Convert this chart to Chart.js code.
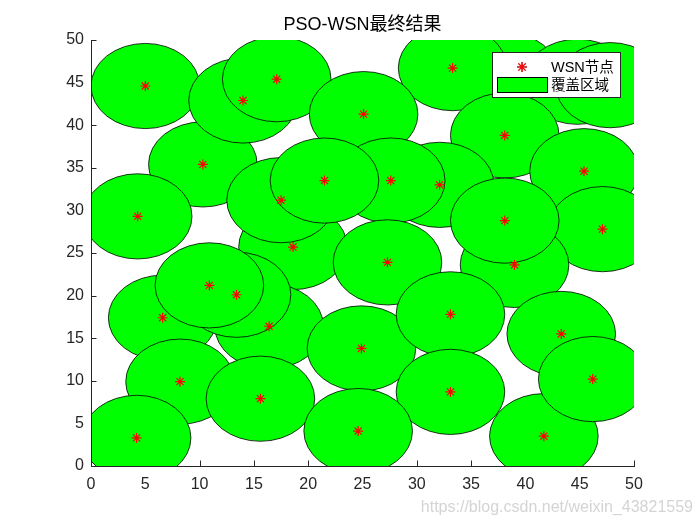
<!DOCTYPE html>
<html>
<head>
<meta charset="utf-8">
<script src="https://cdn.jsdelivr.net/npm/chart.js@4.4.0/dist/chart.umd.min.js"></script>
<style>
  html, body { margin: 0; padding: 0; background: #fff; }
  #wrap { width: 700px; height: 525px; }
</style>
</head>
<body>
<div id="wrap"><canvas id="wsnChart" width="700" height="525"></canvas></div>
<script>
// node positions (drawing order = order here, later on top)
const nodeX = [38.1, 44.8, 47.8, 5.0, 10.3, 14.0, 17.1, 33.3, 25.1, 38.1, 45.4, 47.1, 4.3,
  18.6, 17.5, 32.1, 27.6, 21.5, 39.0, 38.1, 27.3, 6.6, 16.4, 13.4, 10.9, 24.9, 33.1,
  43.3, 8.2, 15.6, 4.2, 33.1, 24.6, 41.7, 46.2];
const nodeY = [45.9, 45.1, 44.7, 44.6, 35.4, 42.9, 45.4, 46.7, 41.3, 38.8, 34.6, 27.8, 29.3,
  25.7, 31.2, 33.0, 33.5, 33.5, 23.6, 28.8, 23.9, 17.4, 16.4, 20.1, 21.2, 13.8, 17.8,
  15.5, 9.9, 7.9, 3.3, 8.7, 4.1, 3.5, 10.2];
const senseR = 5;   // coverage radius
const axisTicks = [0, 5, 10, 15, 20, 25, 30, 35, 40, 45, 50];

const nodePts = nodeX.map((x, i) => ({ x: x, y: nodeY[i] }));

const FONT = '"Liberation Sans", Arial, Helvetica, "Noto Sans CJK SC", sans-serif';
const AXIS_COLOR = '#262626';

// coverage circles + inward tick marks, drawn under the node markers
const coveragePlugin = {
  id: 'coverage',
  beforeDatasetsDraw(chart) {
    const ctx = chart.ctx;
    const xs = chart.scales.x, ys = chart.scales.y;
    const area = chart.chartArea;

    ctx.save();
    ctx.strokeStyle = AXIS_COLOR;
    ctx.lineWidth = 1;
    ctx.beginPath();
    axisTicks.forEach(v => {
      const px = Math.round(xs.getPixelForValue(v)) + 0.5;
      ctx.moveTo(px, area.bottom);
      ctx.lineTo(px, area.bottom - 5.5);
      const py = Math.round(ys.getPixelForValue(v)) + 0.5;
      ctx.moveTo(area.left, py);
      ctx.lineTo(area.left + 5.5, py);
    });
    ctx.stroke();
    ctx.restore();

    const meta = chart.getDatasetMeta(1);
    ctx.save();
    ctx.beginPath();
    ctx.rect(area.left + 1, area.top, area.right - area.left - 1, area.bottom - area.top);
    ctx.clip();
    meta.data.forEach((pt, i) => {
      const d = chart.data.datasets[1].data[i];
      const cx = xs.getPixelForValue(d.x);
      const cy = ys.getPixelForValue(d.y);
      const rx = xs.getPixelForValue(d.x + senseR) - cx;
      const ry = cy - ys.getPixelForValue(d.y + senseR);
      ctx.beginPath();
      ctx.ellipse(cx, cy, rx, ry, 0, 0, Math.PI * 2);
      ctx.fillStyle = '#00ff00';
      ctx.fill();
      ctx.lineWidth = 0.8;
      ctx.strokeStyle = '#000';
      ctx.stroke();
    });
    ctx.restore();
  },
  afterDraw(chart) {
    const ctx = chart.ctx;
    const area = chart.chartArea;
    // legend box, inside the axes at top right
    const bx = area.right - 141.5, by = area.top + 12.5, bw = 128, bh = 45;
    ctx.save();
    ctx.fillStyle = '#fff';
    ctx.fillRect(bx, by, bw, bh);
    ctx.strokeStyle = AXIS_COLOR;
    ctx.lineWidth = 1;
    ctx.strokeRect(bx, by, bw, bh);

    Chart.helpers.drawPoint(ctx, { pointStyle: 'star', radius: 5, borderWidth: 1.2 }, bx + 29.5, by + 14.5);
    ctx.strokeStyle = 'red';
    ctx.lineWidth = 1.2;
    ctx.stroke();

    ctx.fillStyle = '#00ff00';
    ctx.fillRect(bx + 5, by + 25, 50, 15);
    ctx.strokeStyle = '#000';
    ctx.lineWidth = 1;
    ctx.strokeRect(bx + 5, by + 25, 50, 15);

    ctx.fillStyle = '#000';
    ctx.font = '14.5px ' + FONT;
    ctx.textBaseline = 'middle';
    ctx.textAlign = 'left';
    ctx.fillText(chart.data.datasets[0].label, bx + 58.5, by + 15.5);
    ctx.fillText(chart.data.datasets[1].label, bx + 58.5, by + 33);

    // csdn watermark
    ctx.fillStyle = '#d4d4d4';
    ctx.font = '16px ' + FONT;
    ctx.textAlign = 'right';
    ctx.fillText('https://blog.csdn.net/weixin_43821559', 693, 508);
    ctx.restore();
  }
};

const axisOpts = {
  type: 'linear',
  min: 0,
  max: 50,
  grid: { display: false, drawTicks: false },
  border: { display: true, color: AXIS_COLOR, width: 1 },
  afterBuildTicks: s => { s.ticks = axisTicks.map(v => ({ value: v })); },
  ticks: { color: AXIS_COLOR, font: { family: FONT, size: 16 }, autoSkip: false, maxRotation: 0 }
};

new Chart(document.getElementById('wsnChart'), {
  type: 'scatter',
  data: {
    datasets: [
      {
        label: 'WSN节点',
        data: nodePts,
        pointStyle: 'star',
        pointRadius: 5,
        borderColor: 'red',
        backgroundColor: 'red',
        borderWidth: 1.2
      },
      {
        label: '覆盖区域',
        data: nodePts,
        pointRadius: 0,
        backgroundColor: '#00ff00',
        borderColor: '#000'
      }
    ]
  },
  options: {
    responsive: false,
    animation: false,
    events: [],
    layout: { padding: { top: 0, right: 66, bottom: 0, left: 0 } },
    plugins: {
      legend: { display: false },
      tooltip: { enabled: false },
      title: {
        display: true,
        fullSize: false,
        text: 'PSO-WSN最终结果',
        color: '#000',
        font: { family: FONT, size: 18, weight: 'normal' },
        padding: { top: 14, bottom: 4.4 }
      }
    },
    scales: {
      x: Object.assign({}, axisOpts, {
        position: 'bottom',
        ticks: Object.assign({}, axisOpts.ticks, { padding: 9 }),
        afterFit: s => { s.height = 59; }
      }),
      y: Object.assign({}, axisOpts, {
        position: 'left',
        ticks: Object.assign({}, axisOpts.ticks, { padding: 7 }),
        afterFit: s => { s.width = 91; }
      })
    }
  },
  plugins: [coveragePlugin]
});
</script>
</body>
</html>
